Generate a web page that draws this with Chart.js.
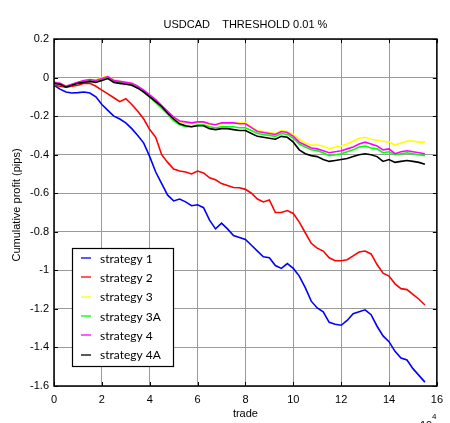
<!DOCTYPE html>
<html>
<head>
<meta charset="utf-8">
<script src="https://cdn.jsdelivr.net/npm/chart.js@4/dist/chart.umd.min.js"></script>
<style>
html,body{margin:0;padding:0;background:#fff;}
#c{display:block;}
</style>
</head>
<body>
<canvas id="c" width="450" height="423"></canvas>
<script>
// trade (x 10^4)
const trade = [0,0.25,0.5,0.75,1,1.25,1.5,1.75,2,2.25,2.5,2.75,3,3.25,3.5,3.75,4,4.25,4.5,4.75,5,5.25,5.5,5.75,6,6.25,6.5,6.75,7,7.25,7.5,7.75,8,8.25,8.5,8.75,9,9.25,9.5,9.75,10,10.25,10.5,10.75,11,11.25,11.5,11.75,12,12.25,12.5,12.75,13,13.25,13.5,13.75,14,14.25,14.5,14.75,15,15.25,15.5];

const strategy1 = [-0.04,-0.06,-0.075,-0.08,-0.078,-0.075,-0.08,-0.1,-0.14,-0.17,-0.2,-0.215,-0.235,-0.265,-0.3,-0.34,-0.41,-0.49,-0.55,-0.61,-0.64,-0.63,-0.645,-0.665,-0.66,-0.675,-0.74,-0.785,-0.755,-0.785,-0.82,-0.83,-0.84,-0.87,-0.9,-0.93,-0.935,-0.975,-0.99,-0.965,-0.99,-1.03,-1.09,-1.16,-1.195,-1.215,-1.27,-1.28,-1.285,-1.26,-1.225,-1.215,-1.205,-1.23,-1.29,-1.34,-1.37,-1.42,-1.455,-1.465,-1.51,-1.545,-1.58];

const strategy2 = [-0.04,-0.045,-0.05,-0.045,-0.04,-0.03,-0.03,-0.045,-0.065,-0.085,-0.105,-0.125,-0.11,-0.14,-0.175,-0.215,-0.27,-0.31,-0.4,-0.44,-0.475,-0.485,-0.49,-0.5,-0.485,-0.495,-0.52,-0.53,-0.55,-0.56,-0.57,-0.572,-0.58,-0.6,-0.63,-0.645,-0.635,-0.7,-0.7,-0.69,-0.705,-0.75,-0.805,-0.86,-0.885,-0.9,-0.935,-0.95,-0.95,-0.945,-0.925,-0.905,-0.9,-0.915,-0.97,-1.015,-1.03,-1.07,-1.095,-1.1,-1.125,-1.15,-1.18];

const strategy3 = [-0.025,-0.03,-0.045,-0.035,-0.025,-0.015,-0.01,-0.012,0,0.005,-0.01,-0.02,-0.025,-0.03,-0.05,-0.07,-0.095,-0.12,-0.15,-0.18,-0.21,-0.23,-0.24,-0.24,-0.235,-0.235,-0.245,-0.245,-0.24,-0.235,-0.235,-0.235,-0.235,-0.255,-0.275,-0.28,-0.285,-0.29,-0.275,-0.28,-0.295,-0.32,-0.34,-0.35,-0.35,-0.355,-0.37,-0.36,-0.355,-0.345,-0.33,-0.315,-0.31,-0.32,-0.325,-0.33,-0.335,-0.35,-0.34,-0.33,-0.33,-0.335,-0.335];

const strategy3A = [-0.03,-0.035,-0.05,-0.04,-0.03,-0.02,-0.015,-0.02,-0.01,0,-0.02,-0.025,-0.03,-0.035,-0.05,-0.075,-0.1,-0.13,-0.16,-0.19,-0.225,-0.245,-0.255,-0.255,-0.245,-0.245,-0.255,-0.26,-0.255,-0.255,-0.255,-0.26,-0.26,-0.275,-0.29,-0.295,-0.3,-0.305,-0.29,-0.295,-0.315,-0.345,-0.36,-0.375,-0.38,-0.39,-0.405,-0.4,-0.395,-0.385,-0.375,-0.36,-0.355,-0.365,-0.37,-0.39,-0.385,-0.4,-0.395,-0.39,-0.395,-0.4,-0.405];

const strategy4 = [-0.025,-0.03,-0.045,-0.035,-0.025,-0.015,-0.01,-0.015,-0.005,0.005,-0.015,-0.02,-0.025,-0.03,-0.045,-0.065,-0.09,-0.115,-0.145,-0.175,-0.205,-0.225,-0.23,-0.235,-0.23,-0.23,-0.24,-0.245,-0.235,-0.235,-0.235,-0.24,-0.24,-0.26,-0.28,-0.285,-0.29,-0.295,-0.28,-0.285,-0.305,-0.335,-0.35,-0.365,-0.37,-0.38,-0.39,-0.385,-0.38,-0.37,-0.36,-0.345,-0.335,-0.345,-0.355,-0.375,-0.37,-0.395,-0.385,-0.38,-0.385,-0.39,-0.395];

const strategy4A = [-0.03,-0.035,-0.05,-0.04,-0.03,-0.025,-0.02,-0.025,-0.015,-0.005,-0.025,-0.03,-0.035,-0.04,-0.055,-0.075,-0.1,-0.125,-0.15,-0.185,-0.215,-0.24,-0.25,-0.255,-0.25,-0.25,-0.265,-0.27,-0.265,-0.265,-0.27,-0.275,-0.275,-0.29,-0.305,-0.31,-0.315,-0.32,-0.305,-0.31,-0.335,-0.375,-0.395,-0.405,-0.41,-0.425,-0.435,-0.43,-0.425,-0.42,-0.41,-0.4,-0.395,-0.4,-0.41,-0.435,-0.425,-0.44,-0.435,-0.43,-0.435,-0.44,-0.45];

const seriesNames = ['strategy 1','strategy 2','strategy 3','strategy 3A','strategy 4','strategy 4A'];
const seriesValues = [strategy1,strategy2,strategy3,strategy3A,strategy4,strategy4A];
const seriesColors = ['#0000ff','#ff0000','#ffff00','#00ff00','#ff00ff','#000000'];

const xTicks = [0,2,4,6,8,10,12,14,16];
const yTicks = [0.2,0,-0.2,-0.4,-0.6,-0.8,-1,-1.2,-1.4,-1.6];

const FONT = '"Liberation Sans", Arial, sans-serif';

const datasets = seriesNames.map((name,i)=>({
  label: name,
  data: trade.map((t,j)=>({x:t, y:seriesValues[i][j]})),
  borderColor: seriesColors[i],
  backgroundColor: seriesColors[i],
  borderWidth: 1.6,
  pointRadius: 0,
  tension: 0,
  fill: false,
  order: seriesNames.length - i
}));

const decor = {
  id: 'decor',
  afterDraw(chart){
    const ctx = chart.ctx;
    const a = chart.chartArea;
    ctx.save();
    // frame
    ctx.strokeStyle = '#000';
    ctx.lineWidth = 1.5;
    ctx.strokeRect(a.left, a.top, a.right - a.left, a.bottom - a.top);
    // inner tick marks
    const xs = chart.scales.x, ys = chart.scales.y;
    ctx.lineWidth = 1;
    ctx.beginPath();
    xTicks.forEach(v=>{
      const px = Math.round(xs.getPixelForValue(v))+0.5;
      ctx.moveTo(px, a.bottom); ctx.lineTo(px, a.bottom-4);
      ctx.moveTo(px, a.top); ctx.lineTo(px, a.top+4);
    });
    yTicks.forEach(v=>{
      const py = Math.round(ys.getPixelForValue(v))+0.5;
      ctx.moveTo(a.left, py); ctx.lineTo(a.left+4, py);
      ctx.moveTo(a.right, py); ctx.lineTo(a.right-4, py);
    });
    ctx.stroke();
    // title
    ctx.fillStyle = '#000';
    ctx.font = '11px ' + FONT;
    ctx.textAlign = 'center';
    ctx.textBaseline = 'middle';
    ctx.fillText('USDCAD    THRESHOLD 0.01 %', (a.left + a.right)/2, 25);
    // x title
    ctx.fillText('trade', (a.left + a.right)/2, 414);
    // exponent
    ctx.textAlign = 'left';
    ctx.textBaseline = 'alphabetic';
    ctx.fillText('10', 420, 429);
    ctx.font = '8px ' + FONT;
    ctx.fillText('4', 432, 419);
    // y title
    ctx.font = '11px ' + FONT;
    ctx.save();
    ctx.translate(17, 205);
    ctx.rotate(-Math.PI/2);
    ctx.textAlign = 'center';
    ctx.textBaseline = 'middle';
    ctx.fillText('Cumulative profit (pips)', 0, 0);
    ctx.restore();
    // legend box
    const lx = 72, ly = 248, lw = 101, lh = 118;
    ctx.fillStyle = '#fff';
    ctx.fillRect(lx, ly, lw, lh);
    ctx.strokeStyle = '#000';
    ctx.lineWidth = 1.2;
    ctx.strokeRect(lx+0.5, ly+0.5, lw, lh);
    ctx.font = '12px Lato, "Open Sans", sans-serif';
    ctx.textBaseline = 'middle';
    ctx.textAlign = 'left';
    for (let i = 0; i < seriesNames.length; i++) {
      const y = 258 + i*19.3;
      ctx.save();
      ctx.globalAlpha = 0.65;
      ctx.strokeStyle = seriesColors[i];
      ctx.lineWidth = 2;
      ctx.beginPath();
      ctx.moveTo(81, Math.round(y));
      ctx.lineTo(91, Math.round(y));
      ctx.stroke();
      ctx.restore();
      ctx.fillStyle = '#000';
      ctx.fillText(seriesNames[i], 100, y + 1);
    }
    ctx.restore();
  }
};

new Chart(document.getElementById('c'), {
  type: 'line',
  data: { datasets },
  options: {
    responsive: false,
    animation: false,
    layout: { padding: { top: 39, right: 10, left: 0, bottom: 0 } },
    plugins: { legend: { display: false }, tooltip: { enabled: false }, title: { display: false } },
    scales: {
      x: {
        type: 'linear',
        min: 0, max: 16,
        afterBuildTicks: s => { s.ticks = xTicks.map(v=>({value:v})); },
        afterFit: s => { s.height = 37; },
        grid: { color: '#9a9a9a', lineWidth: 1, drawTicks: false },
        border: { display: false },
        ticks: { color: '#000', font: { family: FONT, size: 11 }, padding: 7, maxRotation: 0,
          callback: v => String(v) }
      },
      y: {
        type: 'linear',
        min: -1.6, max: 0.2,
        afterBuildTicks: s => { s.ticks = yTicks.map(v=>({value:v})); },
        afterFit: s => { s.width = 54; },
        grid: { color: '#9a9a9a', lineWidth: 1, drawTicks: false },
        border: { display: false },
        ticks: { color: '#000', font: { family: FONT, size: 11 }, padding: 5,
          callback: v => String(Math.round(v*10)/10) }
      }
    }
  },
  plugins: [decor]
});
</script>
</body>
</html>
